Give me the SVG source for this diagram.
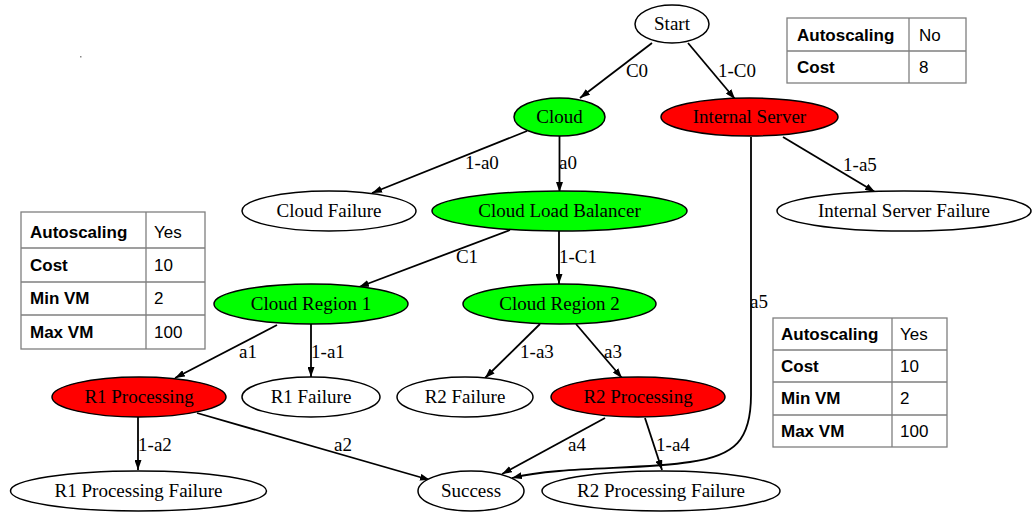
<svg xmlns="http://www.w3.org/2000/svg" width="1035" height="512" viewBox="0 0 1035 512">
  <style>
    .node ellipse { stroke: #000; stroke-width: 1.5; }
    .plain { fill: #fff; }
    .ok { fill: #00ff00; }
    .bad { fill: #ff0000; }
    .nt { font-family: "Liberation Serif", "Times New Roman", serif; font-size: 19px; text-anchor: middle; fill: #000; }
    .edge { fill: none; stroke: #000; stroke-width: 1.8; }
    .el { font-family: "Liberation Serif", "Times New Roman", serif; font-size: 19px; text-anchor: middle; fill: #000; }
    .tbl rect, .tbl line { fill: none; stroke: #7f7f7f; stroke-width: 1.3; }
    .tk { font-family: "Liberation Sans", Arial, sans-serif; font-size: 17px; font-weight: bold; fill: #000; }
    .tv { font-family: "Liberation Sans", Arial, sans-serif; font-size: 17px; fill: #000; }
  </style>
  <defs>
    <marker id="arrow" viewBox="0 0 10 7" refX="10" refY="3.5" markerWidth="10" markerHeight="7" markerUnits="userSpaceOnUse" orient="auto">
      <path d="M0,0 L10,3.5 L0,7 z" fill="#000"/>
    </marker>
  </defs>

  <rect width="1035" height="512" fill="#fff"/>
  <rect x="80" y="56" width="1.5" height="1.5" fill="#888"/>

  <!-- connectors -->
  <g id="edges">
    <path class="edge" marker-end="url(#arrow)" d="M652,43 L580,98"/>
    <text class="el" x="637" y="77">C0</text>
    <path class="edge" marker-end="url(#arrow)" d="M688,43 L735,99"/>
    <text class="el" x="737" y="77">1-C0</text>

    <path class="edge" marker-end="url(#arrow)" d="M527,131 L372,193"/>
    <text class="el" x="482" y="169">1-a0</text>
    <path class="edge" marker-end="url(#arrow)" d="M559.5,136 L559.5,192"/>
    <text class="el" x="568" y="169">a0</text>

    <path class="edge" marker-end="url(#arrow)" d="M783,137 L875,192"/>
    <text class="el" x="860" y="171">1-a5</text>
    <path class="edge" marker-end="url(#arrow)" d="M751,137 L751,395 C751,440 735,456 690,462 C640,470 560,466 512,478"/>
    <text class="el" x="759" y="308">a5</text>

    <path class="edge" marker-end="url(#arrow)" d="M510,230 L359,287"/>
    <text class="el" x="467" y="263">C1</text>
    <path class="edge" marker-end="url(#arrow)" d="M559,230 L559,284"/>
    <text class="el" x="578" y="263">1-C1</text>

    <path class="edge" marker-end="url(#arrow)" d="M277,325 L175,378"/>
    <text class="el" x="248" y="358">a1</text>
    <path class="edge" marker-end="url(#arrow)" d="M311,324 L311,377"/>
    <text class="el" x="328" y="358">1-a1</text>

    <path class="edge" marker-end="url(#arrow)" d="M540,324 L485,378"/>
    <text class="el" x="537" y="358">1-a3</text>
    <path class="edge" marker-end="url(#arrow)" d="M576,324 L622,378"/>
    <text class="el" x="613" y="358">a3</text>

    <path class="edge" marker-end="url(#arrow)" d="M138,417 L138,470"/>
    <text class="el" x="155" y="451">1-a2</text>
    <path class="edge" marker-end="url(#arrow)" d="M197,413 L430,480"/>
    <text class="el" x="343" y="451">a2</text>

    <path class="edge" marker-end="url(#arrow)" d="M605,418 L502,474"/>
    <text class="el" x="577" y="451">a4</text>
    <path class="edge" marker-end="url(#arrow)" d="M645,418 L662,470"/>
    <text class="el" x="673" y="451">1-a4</text>
  </g>

  <!-- nodes -->
  <g id="start" class="node"><ellipse class="plain" cx="672" cy="24" rx="37" ry="19"/><text class="nt" x="672" y="30">Start</text></g>
  <g id="cloud" class="node"><ellipse class="ok" cx="559.5" cy="117" rx="45.5" ry="19"/><text class="nt" x="559.5" y="123">Cloud</text></g>
  <g id="internal-server" class="node"><ellipse class="bad" cx="749.5" cy="117" rx="88.5" ry="19"/><text class="nt" x="749.5" y="123">Internal Server</text></g>
  <g id="cloud-failure" class="node"><ellipse class="plain" cx="329" cy="211" rx="87" ry="20"/><text class="nt" x="329" y="217">Cloud Failure</text></g>
  <g id="cloud-load-balancer" class="node"><ellipse class="ok" cx="559.5" cy="211" rx="127.5" ry="20"/><text class="nt" x="559.5" y="217">Cloud Load Balancer</text></g>
  <g id="internal-server-failure" class="node"><ellipse class="plain" cx="904" cy="211" rx="127" ry="20"/><text class="nt" x="904" y="217">Internal Server Failure</text></g>
  <g id="cloud-region-1" class="node"><ellipse class="ok" cx="311" cy="304" rx="97" ry="20"/><text class="nt" x="311" y="310">Cloud Region 1</text></g>
  <g id="cloud-region-2" class="node"><ellipse class="ok" cx="559.5" cy="304" rx="96.5" ry="20"/><text class="nt" x="559.5" y="310">Cloud Region 2</text></g>
  <g id="r1-processing" class="node"><ellipse class="bad" cx="139" cy="397" rx="87" ry="20"/><text class="nt" x="139" y="403">R1 Processing</text></g>
  <g id="r1-failure" class="node"><ellipse class="plain" cx="311" cy="397" rx="69" ry="20"/><text class="nt" x="311" y="403">R1 Failure</text></g>
  <g id="r2-failure" class="node"><ellipse class="plain" cx="465" cy="397" rx="68" ry="20"/><text class="nt" x="465" y="403">R2 Failure</text></g>
  <g id="r2-processing" class="node"><ellipse class="bad" cx="638" cy="397" rx="87" ry="20"/><text class="nt" x="638" y="403">R2 Processing</text></g>
  <g id="r1-processing-failure" class="node"><ellipse class="plain" cx="138.5" cy="491" rx="128" ry="20"/><text class="nt" x="138.5" y="497">R1 Processing Failure</text></g>
  <g id="success" class="node"><ellipse class="plain" cx="471" cy="491" rx="53" ry="20"/><text class="nt" x="471" y="497">Success</text></g>
  <g id="r2-processing-failure" class="node"><ellipse class="plain" cx="661" cy="491" rx="119" ry="20"/><text class="nt" x="661" y="497">R2 Processing Failure</text></g>

  <!-- parameter tables -->
  <g id="table-internal" class="tbl">
    <rect x="787" y="18" width="179" height="65"/>
    <line x1="909" y1="18" x2="909" y2="83"/>
    <line x1="787" y1="51" x2="966" y2="51"/>
    <text class="tk" x="797" y="41">Autoscaling</text><text class="tv" x="919" y="41">No</text>
    <text class="tk" x="797" y="73">Cost</text><text class="tv" x="919" y="73">8</text>
  </g>

  <g id="table-region-1" class="tbl">
    <rect x="21" y="212" width="184" height="137"/>
    <line x1="146" y1="212" x2="146" y2="349"/>
    <line x1="21" y1="248" x2="205" y2="248"/>
    <line x1="21" y1="282" x2="205" y2="282"/>
    <line x1="21" y1="315" x2="205" y2="315"/>
    <text class="tk" x="30" y="238">Autoscaling</text><text class="tv" x="154" y="238">Yes</text>
    <text class="tk" x="30" y="271">Cost</text><text class="tv" x="154" y="271">10</text>
    <text class="tk" x="30" y="304">Min VM</text><text class="tv" x="154" y="304">2</text>
    <text class="tk" x="30" y="338">Max VM</text><text class="tv" x="154" y="338">100</text>
  </g>

  <g id="table-region-2" class="tbl">
    <rect x="773" y="318" width="174" height="129"/>
    <line x1="892" y1="318" x2="892" y2="447"/>
    <line x1="773" y1="350" x2="947" y2="350"/>
    <line x1="773" y1="382" x2="947" y2="382"/>
    <line x1="773" y1="415" x2="947" y2="415"/>
    <text class="tk" x="781" y="340">Autoscaling</text><text class="tv" x="900" y="340">Yes</text>
    <text class="tk" x="781" y="372">Cost</text><text class="tv" x="900" y="372">10</text>
    <text class="tk" x="781" y="404">Min VM</text><text class="tv" x="900" y="404">2</text>
    <text class="tk" x="781" y="437">Max VM</text><text class="tv" x="900" y="437">100</text>
  </g>
</svg>
